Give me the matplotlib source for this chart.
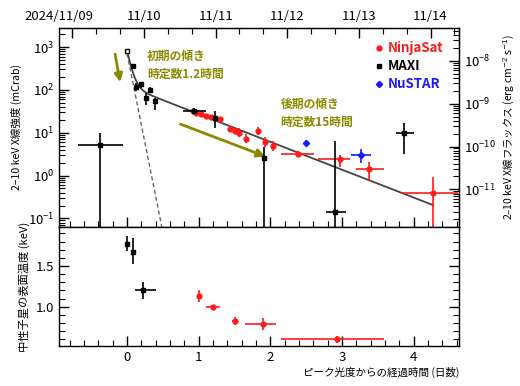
import numpy as np
import matplotlib
matplotlib.use('Agg')
import matplotlib.pyplot as plt
from matplotlib.ticker import (MultipleLocator, LogLocator, NullFormatter, FixedLocator,
                               FormatStrFormatter)
from matplotlib.lines import Line2D
from matplotlib.transforms import ScaledTranslation

plt.rcParams['font.family'] = ['Noto Sans CJK JP', 'DejaVu Sans']
plt.rcParams['mathtext.fontset'] = 'dejavusans'

# ---- upper panel: 2-10 keV intensity (mCrab) vs days since peak
maxi_t = [0.0, 0.077, 0.13, 0.20, 0.26, 0.32, 0.39, -0.38, 0.94, 1.23, 1.91, 2.90, 3.87]
maxi_t_lo = [0.0, 0.077, 0.13, 0.20, 0.26, 0.32, 0.39, -0.69, 0.78, 1.21, 1.91, 2.77, 3.75]
maxi_t_hi = [0.0, 0.077, 0.13, 0.20, 0.26, 0.32, 0.39, -0.06, 1.10, 1.25, 1.91, 3.05, 4.00]
maxi_f = [820, 360, 116, 134, 65, 100, 56, 5.1, 33, 22, 2.6, 0.14, 10]
maxi_f_lo = [780, 330, 96, 110, 45, 84, 34, 0.01, 29, 12.9, 0.01, 0.01, 3.2]
maxi_f_hi = [860, 390, 145, 157, 84, 115, 65, 10, 37, 32, 4.7, 6.5, 16.6]

ninja_t = [0.918, 0.965, 1.035, 1.105, 1.174, 1.29, 1.43, 1.50, 1.56, 1.66, 1.82, 1.93, 2.04,
           2.38, 2.97, 3.37, 4.27]
ninja_t_lo = [0.90, 0.945, 1.015, 1.085, 1.155, 1.27, 1.41, 1.48, 1.54, 1.64, 1.80, 1.91, 2.02,
              2.15, 2.67, 3.20, 3.83]
ninja_t_hi = [0.935, 0.985, 1.055, 1.125, 1.195, 1.31, 1.45, 1.52, 1.58, 1.68, 1.84, 1.95, 2.06,
              2.61, 3.11, 3.58, 4.62]
ninja_f = [32.9, 29.5, 27.1, 24.7, 23.1, 21.4, 12.3, 11.0, 10.0, 7.2, 11.0, 6.0, 4.9,
           3.2, 2.5, 1.45, 0.40]
ninja_f_lo = [30.0, 27.0, 24.8, 22.6, 21.0, 19.5, 10.7, 9.3, 7.9, 5.7, 8.7, 4.6, 3.7,
              2.8, 1.6, 0.79, 0.01]
ninja_f_hi = [36.0, 32.2, 29.6, 27.0, 25.4, 23.5, 14.1, 12.9, 12.6, 9.1, 13.9, 7.9, 6.5,
              3.7, 3.0, 2.1, 0.94]

nustar_t = [2.49, 3.27]
nustar_t_lo = [2.49, 3.12]
nustar_t_hi = [2.49, 3.41]
nustar_f = [5.9, 3.1]
nustar_f_lo = [5.5, 1.94]
nustar_f_hi = [6.3, 4.1]

# two-exponential decay fit (amplitude in mCrab, time constant in days)
amp_early, tau_early = 700.0, 0.052   # ~1.2 h
amp_late, tau_late = 122.0, 0.668
fit_end = 4.27
early_end = 0.55

mcrab_to_flux = 2.1e-11  # erg cm-2 s-1 per mCrab

# ---- lower panel: surface temperature (keV)
tmaxi_t = [0.0, 0.077, 0.226]
tmaxi_t_lo = [0.0, 0.077, 0.105]
tmaxi_t_hi = [0.0, 0.077, 0.40]
tmaxi_k = [1.776, 1.677, 1.20]
tmaxi_k_lo = [1.685, 1.52, 1.09]
tmaxi_k_hi = [1.87, 1.84, 1.30]

tninja_t = [1.0, 1.197, 1.5, 1.894, 2.93]
tninja_t_lo = [0.97, 1.10, 1.47, 1.64, 2.15]
tninja_t_hi = [1.03, 1.29, 1.53, 2.08, 3.58]
tninja_k = [1.13, 0.995, 0.823, 0.79, 0.606]
tninja_k_lo = [1.06, 0.965, 0.775, 0.72, 0.55]
tninja_k_hi = [1.20, 1.025, 0.87, 0.865, 0.647]

date_pos = [-0.765, 0.235, 1.235, 2.235, 3.235, 4.235]
date_labels = ['2024/11/09', '11/10', '11/11', '11/12', '11/13', '11/14']

olive = '#8a8a00'
red = '#ff1a1a'
blue = '#1a1aff'


def errs(v, lo, hi):
    v = np.asarray(v)
    return [v - np.asarray(lo), np.asarray(hi) - v]


fig = plt.figure(figsize=(5.2, 3.86), dpi=100)
ax = fig.add_axes([0.1135, 0.412, 0.769, 0.516])
ax2 = fig.add_axes([0.1135, 0.104, 0.769, 0.308], sharex=ax)

# upper panel
ax.set_yscale('log')
ax.set_xlim(-0.95, 4.63)
ax.set_ylim(10 ** -1.2, 10 ** 3.45)

tt = np.linspace(0, fit_end, 600)
ax.plot(tt, amp_early * np.exp(-tt / tau_early) + amp_late * np.exp(-tt / tau_late),
        color='#444444', lw=1.3, zorder=3)
te = np.linspace(0, early_end, 100)
ax.plot(te, amp_early * np.exp(-te / tau_early), color='#666666', lw=1.0, ls=(0, (3, 2)), zorder=2)

ax.errorbar(ninja_t, ninja_f, xerr=errs(ninja_t, ninja_t_lo, ninja_t_hi),
            yerr=errs(ninja_f, ninja_f_lo, ninja_f_hi), fmt='o', ms=3.5, color=red,
            ecolor=red, elinewidth=1.2, capsize=0, zorder=4)
mx = np.array(errs(maxi_t, maxi_t_lo, maxi_t_hi))
my = np.array(errs(maxi_f, maxi_f_lo, maxi_f_hi))
ax.errorbar(maxi_t[1:], maxi_f[1:], xerr=mx[:, 1:], yerr=my[:, 1:], fmt='s', ms=3.2,
            color='black', elinewidth=1.2, capsize=0, zorder=5)
ax.plot(maxi_t[:1], maxi_f[:1], 's', ms=3.5, mfc='white', mec='black', mew=1.0, zorder=5)
ax.errorbar(nustar_t, nustar_f, xerr=errs(nustar_t, nustar_t_lo, nustar_t_hi),
            yerr=errs(nustar_f, nustar_f_lo, nustar_f_hi), fmt='D', ms=3.2, color=blue,
            elinewidth=1.2, capsize=0, zorder=4)

ax.annotate('', xy=(-0.091, 131), xytext=(-0.174, 790),
            arrowprops=dict(arrowstyle='-|>', color=olive, lw=2.0, mutation_scale=12))
ax.annotate('', xy=(1.966, 2.65), xytext=(0.71, 16.7),
            arrowprops=dict(arrowstyle='-|>', color=olive, lw=2.0, mutation_scale=12))
ax.text(0.28, 10 ** 2.57, '初期の傾き\n時定数1.2時間', color=olive, fontsize=8.5,
        fontweight='bold', va='center', linespacing=1.5)
ax.text(2.14, 10 ** 1.45, '後期の傾き\n時定数15時間', color=olive, fontsize=8.5,
        fontweight='bold', va='center', linespacing=1.5)

handles = [Line2D([], [], ls='none', marker='o', ms=3.5, color=red),
           Line2D([], [], ls='none', marker='s', ms=3.2, color='black'),
           Line2D([], [], ls='none', marker='D', ms=3.2, color=blue)]
ax.legend(handles, ['NinjaSat', 'MAXI', 'NuSTAR'], loc='upper left',
          bbox_to_anchor=(0.773, 0.965), frameon=False, labelcolor=[red, 'black', blue],
          handlelength=0.6, handletextpad=0.35, labelspacing=0.3, borderpad=0,
          prop=dict(size=9.5, weight='bold'))

ax.set_ylabel('2–10 keV X線強度 (mCrab)', fontsize=7.6)
ax.yaxis.set_major_locator(LogLocator(base=10, numticks=10))
ax.yaxis.set_minor_locator(LogLocator(base=10, subs=np.arange(2, 10), numticks=20))
ax.yaxis.set_minor_formatter(NullFormatter())
ax.tick_params(axis='both', which='both', direction='in', labelsize=9.5)
ax.tick_params(axis='x', which='both', labelbottom=False)
ax.tick_params(which='major', length=7, width=1.0)
ax.tick_params(which='minor', length=4, width=0.8)
ax.xaxis.set_major_locator(MultipleLocator(1))
ax.xaxis.set_minor_locator(MultipleLocator(0.2))

# right flux axis
sec = ax.secondary_yaxis('right', functions=(lambda v: v * mcrab_to_flux,
                                             lambda v: v / mcrab_to_flux))
sec.set_yscale('log')
sec.yaxis.set_major_locator(FixedLocator([1e-11, 1e-10, 1e-9, 1e-8]))
sec.yaxis.set_minor_locator(LogLocator(base=10, subs=np.arange(2, 10), numticks=20))
sec.yaxis.set_minor_formatter(NullFormatter())
sec.tick_params(which='both', direction='in', labelsize=9.5)
sec.tick_params(which='major', length=7, width=1.0)
sec.tick_params(which='minor', length=4, width=0.8)
sec.set_ylabel('2–10 keV X線フラックス (erg cm$^{-2}$ s$^{-1}$)', fontsize=7.5, labelpad=5)

# top date axis
top = ax.secondary_xaxis('top')
top.xaxis.set_major_locator(FixedLocator(date_pos))
top.set_xticklabels(date_labels)
top.xaxis.set_minor_locator(FixedLocator(np.arange(date_pos[0], 4.7, 1 / 3)))
top.tick_params(which='both', direction='in', labelsize=9.5)
top.tick_params(which='major', length=7, width=1.0)
top.tick_params(which='minor', length=4, width=0.8)
first = top.get_xticklabels()[0]
first.set_transform(first.get_transform() + ScaledTranslation(-0.13, 0, fig.dpi_scale_trans))

# lower panel
ax2.errorbar(tmaxi_t, tmaxi_k, xerr=errs(tmaxi_t, tmaxi_t_lo, tmaxi_t_hi),
             yerr=errs(tmaxi_k, tmaxi_k_lo, tmaxi_k_hi), fmt='s', ms=3.2, color='black',
             elinewidth=1.2, capsize=0)
ax2.errorbar(tninja_t, tninja_k, xerr=errs(tninja_t, tninja_t_lo, tninja_t_hi),
             yerr=errs(tninja_k, tninja_k_lo, tninja_k_hi), fmt='o', ms=3.5, color=red,
             elinewidth=1.2, capsize=0)
ax2.set_ylim(0.52, 1.98)
ax2.yaxis.set_major_locator(MultipleLocator(0.5))
ax2.yaxis.set_minor_locator(MultipleLocator(0.1))
ax2.xaxis.set_major_locator(MultipleLocator(1))
ax2.xaxis.set_minor_locator(MultipleLocator(0.2))
ax2.yaxis.set_major_formatter(FormatStrFormatter('%.1f'))
ax2.tick_params(which='both', direction='in', labelsize=9.5, right=True, top=False)
ax2.tick_params(axis='x', which='both', labelbottom=True)
ax2.tick_params(which='major', length=7, width=1.0)
ax2.tick_params(which='minor', length=4, width=0.8)
ax2.set_ylabel('中性子星の表面温度 (keV)', fontsize=8.1)
ax2.set_xlabel('ピーク光度からの経過時間 (日数)', fontsize=7.6, loc='right', labelpad=2)

for a in (ax, ax2):
    for s in a.spines.values():
        s.set_linewidth(1.0)

fig.align_ylabels([ax, ax2])
fig.savefig('out.png', dpi=100)
